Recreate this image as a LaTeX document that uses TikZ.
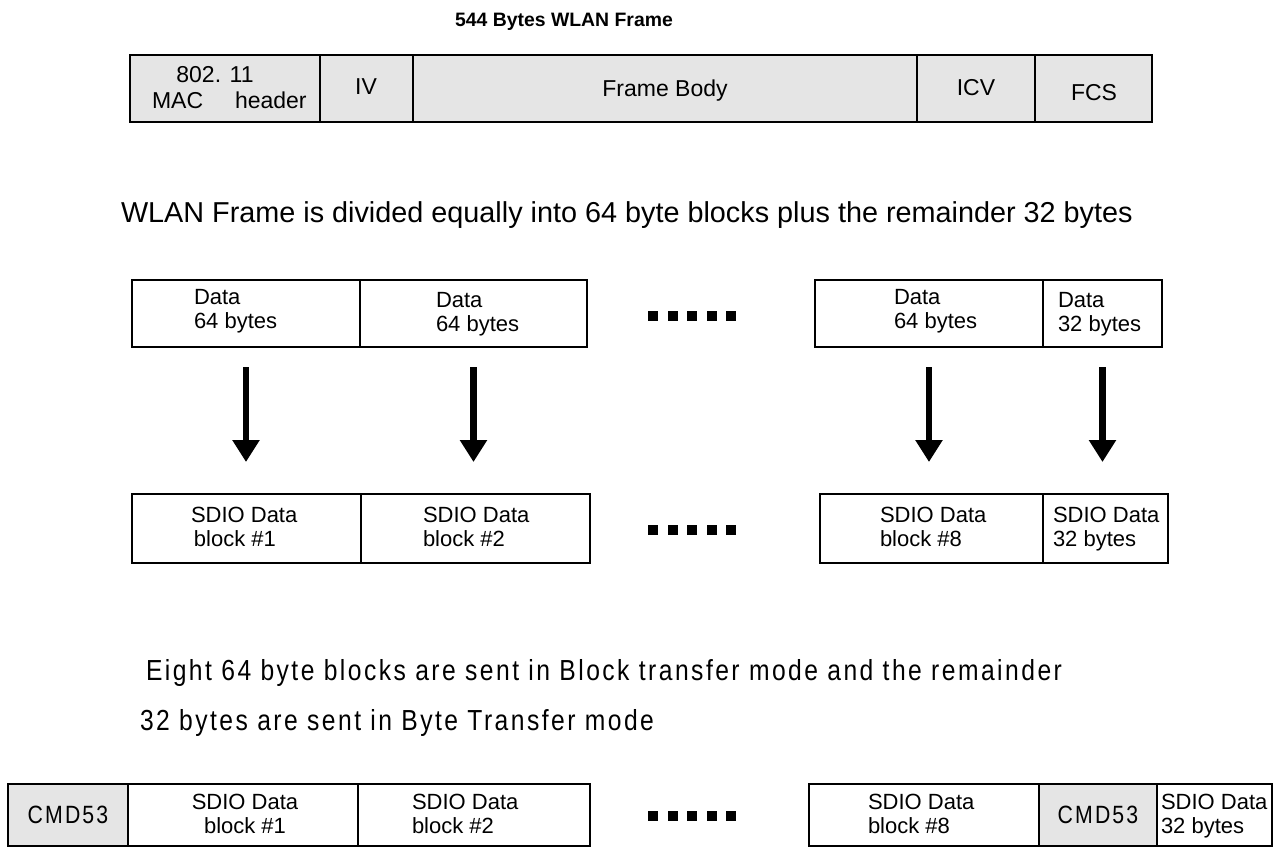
\documentclass[tikz,border=0pt]{standalone}
\usepackage{fontspec}
\setmainfont{Liberation Sans}
\newfontfamily\spacedfont[FakeStretch=0.85,LetterSpace=8.5]{Liberation Sans}
\usetikzlibrary{arrows.meta}
\begin{document}
\begin{tikzpicture}[x=0.5pt,y=-0.5pt,
  cellbox/.style={draw, line width=0.75pt, inner sep=0pt, outer sep=0pt, anchor=north west},
  graycell/.style={cellbox, fill=black!10},
  txt/.style={inner sep=0pt, outer sep=0pt},
  celltxt/.style={txt, anchor=north west, align=left, font=\fontsize{11}{12}\selectfont},
  framtxt/.style={txt, anchor=base, font=\fontsize{11.5}{13}\selectfont},
  cmdtxt/.style={txt, font=\spacedfont\fontsize{12.5}{14}\selectfont},
  spacedtxt/.style={txt, anchor=base west, font=\spacedfont\fontsize{14.5}{16}\selectfont},
  bigarrow/.style={line width=3.2pt, -{Triangle[width=13pt,length=11pt]}, shorten <=10pt, shorten >=16pt},
]
\useasboundingbox (0,0) rectangle (1276,848);
\fill[white] (0,0) rectangle (1276,848);

% title
\node[txt, anchor=base, font=\bfseries\fontsize{9.7}{12}\selectfont] (title) at (564,26) {544 Bytes WLAN Frame};

% WLAN frame
\node[graycell, minimum width=95pt,   minimum height=33.5pt] (f1) at (130,55) {};
\node[graycell, minimum width=46.5pt, minimum height=33.5pt] (f2) at (320,55) {};
\node[graycell, minimum width=252pt,  minimum height=33.5pt] (f3) at (413,55) {};
\node[graycell, minimum width=59pt,   minimum height=33.5pt] (f4) at (917,55) {};
\node[graycell, minimum width=58.5pt, minimum height=33.5pt] (f5) at (1035,55) {};
\node[framtxt] (f1a) at (215,82) {802. 11};
\node[framtxt, anchor=base west] (f1b) at (152,108) {MAC};
\node[framtxt, anchor=base west] (f1c) at (235,108) {header};
\node[framtxt] (f2t) at (366,94) {IV};
\node[framtxt] (f3t) at (665,96) {Frame Body};
\node[framtxt] (f4t) at (976,95) {ICV};
\node[framtxt] (f5t) at (1094,100) {FCS};

% sentence 1
\node[txt, anchor=base west, font=\fontsize{14.4}{17}\selectfont] (note1) at (121,222) {WLAN Frame is divided equally into 64 byte blocks plus the remainder 32 bytes};

% data row
\node[cellbox, minimum width=114pt,   minimum height=33.5pt] (d1) at (132,280) {};
\node[cellbox, minimum width=113.5pt, minimum height=33.5pt] (d2) at (360,280) {};
\node[cellbox, minimum width=114pt,   minimum height=33.5pt] (d3) at (815,280) {};
\node[cellbox, minimum width=59.5pt,  minimum height=33.5pt] (d4) at (1043,280) {};
\node[celltxt] (d1t) at (194,289) {Data\\64 bytes};
\node[celltxt] (d2t) at (436,292) {Data\\64 bytes};
\node[celltxt] (d3t) at (894,289) {Data\\64 bytes};
\node[celltxt] (d4t) at (1058,292) {Data\\32 bytes};
\foreach \i in {0,...,4} \fill (648+19.5*\i,311) rectangle ++(10,10);

% SDIO row
\node[cellbox, minimum width=114.5pt, minimum height=34.5pt] (s1) at (132,494) {};
\node[cellbox, minimum width=114.5pt, minimum height=34.5pt] (s2) at (361,494) {};
\node[cellbox, minimum width=111.5pt, minimum height=34.5pt] (s3) at (820,494) {};
\node[cellbox, minimum width=62.5pt,  minimum height=34.5pt] (s4) at (1043,494) {};
\node[celltxt] (s1t) at (191,507) {SDIO Data\\\hspace*{1.5pt}block \#1};
\node[celltxt] (s2t) at (423,507) {SDIO Data\\block \#2};
\node[celltxt] (s3t) at (880,507) {SDIO Data\\block \#8};
\node[celltxt] (s4t) at (1053,507) {SDIO Data\\32 bytes};
\foreach \i in {0,...,4} \fill (648+19.5*\i,525) rectangle ++(10,10);

% arrows
\draw[bigarrow] (d1.south) -- (d1.south |- s1.north);
\draw[bigarrow] (d2.south) -- (d2.south |- s2.north);
\draw[bigarrow] (d3.south) -- (d3.south |- s3.north);
\draw[bigarrow] (d4.south) -- (d4.south |- s4.north);

% sentence 2
\node[spacedtxt] (note2) at (146,680) {Eight 64 byte blocks are sent in Block transfer mode and the remainder};
\node[spacedtxt] (note3) at (140,730) {32 bytes are sent in Byte Transfer mode};

% bottom row
\node[graycell, minimum width=60pt,  minimum height=31pt] (b1) at (8,784) {};
\node[cellbox,  minimum width=115pt, minimum height=31pt] (b2) at (128,784) {};
\node[cellbox,  minimum width=116pt, minimum height=31pt] (b3) at (358,784) {};
\node[cellbox,  minimum width=115pt, minimum height=31pt] (b4) at (809,784) {};
\node[graycell, minimum width=59pt,  minimum height=31pt] (b5) at (1039,784) {};
\node[cellbox,  minimum width=57.5pt,minimum height=31pt] (b6) at (1157,784) {};
\node[cmdtxt] (b1t) at (b1.center) {CMD53};
\node[celltxt, anchor=north, align=center] (b2t) at (245,794) {SDIO Data\\block \#1};
\node[celltxt] (b3t) at (412,794) {SDIO Data\\block \#2};
\node[celltxt] (b4t) at (868,794) {SDIO Data\\block \#8};
\node[cmdtxt] (b5t) at (b5.center) {CMD53};
\node[celltxt] (b6t) at (1161,794) {SDIO Data\\32 bytes};
\foreach \i in {0,...,4} \fill (648+19.5*\i,811) rectangle ++(10,10);
\end{tikzpicture}
\end{document}
